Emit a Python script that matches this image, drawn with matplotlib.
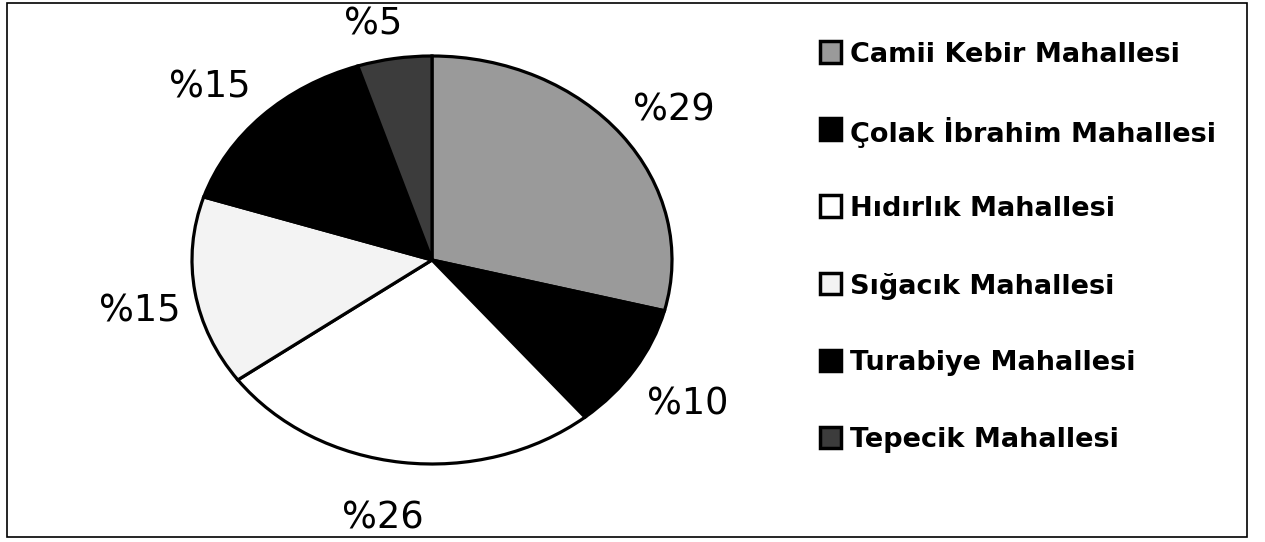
import numpy as np
import matplotlib
matplotlib.use("Agg")
import matplotlib.pyplot as plt
from matplotlib.patches import Rectangle

plt.rcParams['font.family'] = ['DejaVu Sans']

categories = ["Camii Kebir Mahallesi", "Çolak İbrahim Mahallesi", "Hıdırlık Mahallesi",
              "Sığacık Mahallesi", "Turabiye Mahallesi", "Tepecik Mahallesi"]
values = [29, 10, 26, 15, 15, 5]
labels = ["%" + str(v) for v in values]
colors = ["#9a9a9a", "#000000", "#ffffff", "#f3f3f3", "#000000", "#3c3c3c"]
label_dist = [1.26, 1.27, 1.26, 1.24, 1.27, 1.20]
label_dang = [-1.0, -0.4, -2.2, 1.6, 1.8, 2.8]

W, H = 1265, 542
fig = plt.figure(figsize=(W / 100, H / 100), dpi=100)

# pie axes (elliptical pie)
cx, cy, rx, ry = 432, 260, 240, 204
ax = fig.add_axes([(cx - rx) / W, (H - cy - ry) / H, 2 * rx / W, 2 * ry / H])
wedges, texts = ax.pie(values, labels=labels, colors=colors, startangle=90, counterclock=False,
                       labeldistance=1.26,
                       wedgeprops=dict(edgecolor="black", linewidth=2.3),
                       textprops=dict(fontsize=26.5, color="black"))
for w, t, d, da in zip(wedges, texts, label_dist, label_dang):
    mid = np.deg2rad((w.theta1 + w.theta2) / 2 + da)
    t.set_position((d * np.cos(mid), d * np.sin(mid)))
    t.set_ha("center")
    t.set_va("center_baseline")
ax.set_aspect("auto")
ax.set_xlim(-1, 1)
ax.set_ylim(-1, 1)
ax.axis("off")

# legend
leg_x = 820
leg_y0 = 52
leg_dy = 77
sq = 21
for i, (c, name) in enumerate(zip(colors, categories)):
    y = leg_y0 + i * leg_dy
    fig.patches.append(Rectangle((leg_x / W, (H - y - sq / 2) / H), sq / W, sq / H,
                                 transform=fig.transFigure, facecolor=c,
                                 edgecolor="black", linewidth=2.5))
    fig.text((leg_x + sq + 9) / W, (H - y) / H, name, fontsize=19.5, fontweight="bold",
             ha="left", va="center_baseline")

# outer frame
fig.patches.append(Rectangle((7 / W, (H - 537) / H), (1247 - 7) / W, (537 - 3) / H,
                             transform=fig.transFigure, facecolor="none",
                             edgecolor="black", linewidth=1.2))

fig.savefig("out.png", dpi=100)
